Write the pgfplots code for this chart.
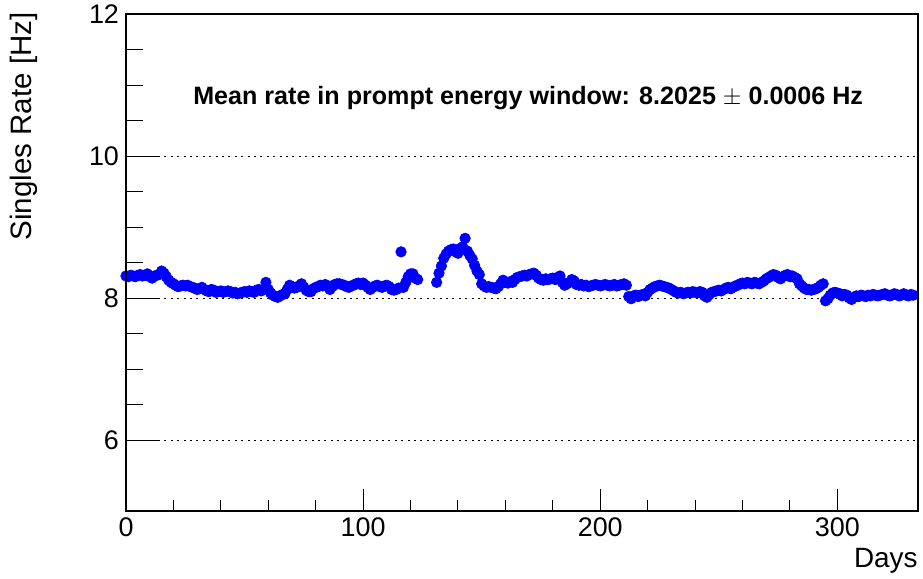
\documentclass[border=0pt]{standalone}
\usepackage{fontspec}
\setmainfont{Liberation Sans}
\usepackage{pgfplots}
\pgfplotsset{compat=1.18}
\definecolor{rootblue}{RGB}{0,0,255}
\begin{document}
\begin{tikzpicture}
\path[use as bounding box] (-63bp,-34bp) rectangle (398.5bp,255.5bp);
\begin{axis}[
  at={(0,0)}, anchor=south west,
  scale only axis, width=396bp, height=248.5bp,
  xmin=0, xmax=334, ymin=5, ymax=12,
  xtick={0,100,200,300}, minor x tick num=4,
  ytick={6,8,10,12}, minor y tick num=3,
  tick align=inside, xtick pos=left, ytick pos=left,
  xtick style={black, line width=0.5bp, /pgfplots/major tick length=11bp, /pgfplots/minor tick length=5.5bp},
  ytick style={black, line width=0.5bp, /pgfplots/major tick length=17bp, /pgfplots/minor tick length=8.5bp},
  ymajorgrids,
  major grid style={black, line width=0.5bp, dash pattern=on 1bp off 2.2bp},
  /pgf/number format/assume math mode=true,
  ticklabel style={font=\fontsize{13.5}{15}\selectfont},
  scaled ticks=false,
  clip mode=individual,
]
\addplot[only marks, mark=*, mark size=2.6bp, mark options={fill=rootblue, draw=rootblue}] table {
x y
0 8.31
1 8.30
2 8.32
3 8.31
4 8.30
5 8.32
6 8.33
7 8.31
8 8.32
9 8.34
10 8.30
11 8.28
12 8.31
13 8.32
14 8.33
15 8.38
16 8.35
17 8.30
18 8.25
19 8.22
20 8.20
21 8.18
22 8.16
23 8.17
24 8.18
25 8.17
26 8.18
27 8.16
28 8.15
29 8.14
30 8.12
31 8.13
32 8.15
33 8.12
34 8.10
35 8.09
36 8.12
37 8.11
38 8.08
39 8.09
40 8.10
41 8.08
42 8.09
43 8.10
44 8.09
45 8.07
46 8.08
47 8.06
48 8.07
49 8.08
50 8.09
51 8.08
52 8.10
53 8.09
54 8.08
55 8.11
56 8.12
57 8.10
58 8.12
59 8.22
60 8.12
61 8.07
62 8.04
63 8.02
64 8.01
65 8.03
66 8.05
67 8.06
68 8.12
69 8.18
70 8.16
71 8.14
72 8.15
73 8.17
74 8.20
75 8.15
76 8.11
77 8.09
78 8.09
79 8.13
80 8.15
81 8.16
82 8.18
83 8.17
84 8.19
85 8.17
86 8.12
87 8.16
88 8.19
89 8.20
90 8.20
91 8.19
92 8.18
93 8.16
94 8.15
95 8.17
96 8.18
97 8.20
98 8.21
99 8.19
100 8.21
101 8.18
102 8.15
103 8.12
104 8.15
105 8.17
106 8.18
107 8.16
108 8.15
109 8.17
110 8.18
111 8.16
112 8.12
113 8.11
114 8.12
115 8.14
116 8.65
117 8.15
118 8.22
119 8.30
120 8.34
121 8.34
122 8.28
123 8.26
131 8.22
132 8.35
133 8.45
134 8.56
135 8.62
136 8.66
137 8.68
138 8.69
139 8.65
140 8.63
141 8.70
142 8.72
143 8.84
144 8.66
145 8.60
146 8.55
147 8.46
148 8.38
149 8.33
150 8.20
151 8.17
152 8.15
153 8.16
154 8.15
155 8.14
156 8.13
157 8.16
158 8.20
159 8.25
160 8.22
161 8.21
162 8.23
163 8.22
164 8.26
165 8.29
166 8.30
167 8.31
168 8.32
169 8.31
170 8.33
171 8.34
172 8.35
173 8.32
174 8.28
175 8.26
176 8.25
177 8.27
178 8.26
179 8.27
180 8.28
181 8.26
182 8.29
183 8.31
184 8.22
185 8.18
186 8.20
187 8.22
188 8.26
189 8.24
190 8.19
191 8.18
192 8.19
193 8.17
194 8.18
195 8.16
196 8.17
197 8.18
198 8.19
199 8.18
200 8.17
201 8.18
202 8.19
203 8.18
204 8.17
205 8.18
206 8.19
207 8.17
208 8.18
209 8.19
210 8.20
211 8.18
212 8.02
213 7.99
214 8.03
215 8.04
216 8.02
217 8.04
218 8.05
219 8.03
220 8.08
221 8.12
222 8.14
223 8.16
224 8.17
225 8.18
226 8.17
227 8.16
228 8.15
229 8.14
230 8.12
231 8.10
232 8.08
233 8.07
234 8.08
235 8.06
236 8.07
237 8.08
238 8.07
239 8.09
240 8.08
241 8.07
242 8.09
243 8.08
244 8.03
245 8.01
246 8.05
247 8.08
248 8.09
249 8.10
250 8.11
251 8.10
252 8.12
253 8.14
254 8.15
255 8.13
256 8.15
257 8.17
258 8.18
259 8.20
260 8.21
261 8.20
262 8.22
263 8.21
264 8.20
265 8.22
266 8.21
267 8.20
268 8.22
269 8.24
270 8.27
271 8.29
272 8.31
273 8.33
274 8.32
275 8.29
276 8.27
277 8.30
278 8.32
279 8.33
280 8.30
281 8.31
282 8.29
283 8.27
284 8.20
285 8.17
286 8.14
287 8.12
288 8.12
289 8.11
290 8.12
291 8.13
292 8.15
293 8.18
294 8.20
295 7.96
296 7.99
297 8.04
298 8.07
299 8.08
300 8.07
301 8.06
302 8.03
303 8.05
304 8.04
305 8.00
306 7.98
307 8.01
308 8.03
309 8.02
310 8.04
311 8.03
312 8.02
313 8.04
314 8.03
315 8.05
316 8.04
317 8.03
318 8.04
319 8.05
320 8.06
321 8.04
322 8.03
323 8.04
324 8.06
325 8.05
326 8.03
327 8.04
328 8.06
329 8.04
330 8.03
331 8.05
332 8.04
};
\draw[line width=1.25bp] (rel axis cs:0,0) rectangle (rel axis cs:1,1);
\node[font=\bfseries\fontsize{12.6}{14}\selectfont, inner sep=0pt] at (axis cs:169.6,10.82) {Mean rate in prompt energy window: 8.2025 $\pm$ 0.0006 Hz};
\end{axis}
\node[font=\fontsize{14.8}{17}\selectfont, rotate=90, anchor=south east, inner sep=0pt] at (-44bp,249.5bp) {Singles Rate [Hz]};
\node[font=\fontsize{14}{16}\selectfont, anchor=north east, inner sep=0pt] at (396bp,-18.5bp) {Days};
\end{tikzpicture}
\end{document}
